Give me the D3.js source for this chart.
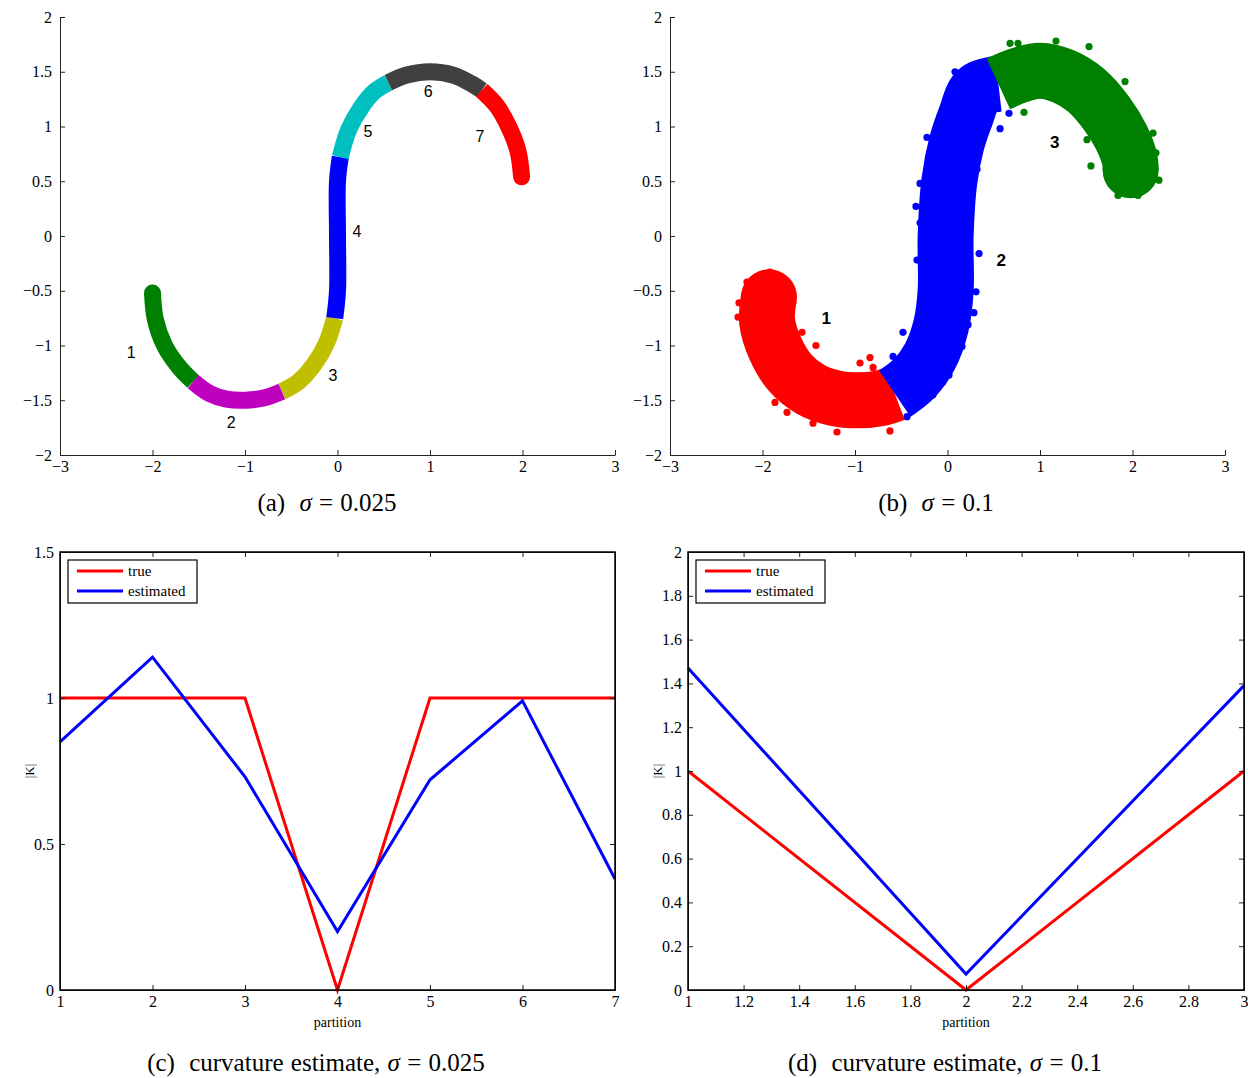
<!DOCTYPE html>
<html>
<head>
<meta charset="utf-8">
<script src="https://cdn.jsdelivr.net/npm/d3@7"></script>
<style>
  body { margin: 0; background: #fff; }
  .tick text { font-family: "Liberation Serif", serif; font-size: 16px; fill: #000; }
  .tick line, .domain { stroke: #222; }
  .caption { font-family: "Liberation Serif", serif; font-size: 25px; word-spacing: 1px; fill: #000; }
  .seglabel { font-family: "Liberation Sans", Arial, sans-serif; font-size: 16px; fill: #000; }
  .leg { font-family: "Liberation Serif", serif; font-size: 15px; fill: #000; }
</style>
</head>
<body>
<script>
// ---- datos del panel (a), sigma = 0.025: linea central de cada segmento ----
const segA1 = [[-2.0,-0.52],[-1.97,-0.76],[-1.87,-1.0],[-1.71,-1.2],[-1.56,-1.33]];
const segA2 = [[-1.56,-1.33],[-1.38,-1.44],[-1.2,-1.49],[-1.0,-1.5],[-0.8,-1.48],[-0.6,-1.42]];
const segA3 = [[-0.6,-1.42],[-0.42,-1.33],[-0.25,-1.17],[-0.12,-0.98],[-0.03,-0.75]];
const segA4 = [[-0.03,-0.75],[0.0,-0.5],[0.0,0.0],[0.0,0.5],[0.03,0.72]];
const segA5 = [[0.03,0.72],[0.12,0.97],[0.26,1.18],[0.4,1.32],[0.55,1.4]];
const segA6 = [[0.55,1.4],[0.75,1.47],[1.0,1.5],[1.25,1.47],[1.45,1.39],[1.56,1.33]];
const segA7 = [[1.56,1.33],[1.72,1.19],[1.85,1.0],[1.95,0.78],[1.99,0.54]];
const segmentsA = [segA1, segA2, segA3, segA4, segA5, segA6, segA7];
const colorsA = ["#008000", "#bf00bf", "#bfbf00", "#0000ff", "#00bfbf", "#404040", "#ff0000"];
const labelsA = ["1", "2", "3", "4", "5", "6", "7"];
const labelPosA = [[-2.23,-1.06],[-1.15,-1.7],[-0.05,-1.27],[0.21,0.04],[0.33,0.95],[0.98,1.32],[1.54,0.91]];

// ---- datos del panel (b), sigma = 0.1 ----
const segB1 = [[-1.93,-0.56],[-1.95,-0.78],[-1.86,-1.03],[-1.7,-1.25],[-1.48,-1.4],[-1.22,-1.48],[-0.95,-1.5],[-0.72,-1.48],[-0.57,-1.44]];
const segB2 = [[-0.57,-1.44],[-0.36,-1.3],[-0.19,-1.1],[-0.07,-0.82],[-0.02,-0.5],[-0.02,0.0],[0.02,0.5],[0.1,0.85],[0.2,1.1],[0.32,1.33],[0.55,1.39]];
const segB3 = [[0.55,1.39],[0.78,1.47],[1.0,1.51],[1.25,1.46],[1.5,1.33],[1.72,1.12],[1.88,0.9],[1.97,0.7],[1.98,0.6]];
const segmentsB = [segB1, segB2, segB3];
const colorsB = ["#ff0000", "#0000ff", "#008000"];
// puntos sueltos (fuera de la nube principal)
const outRedB = [[-2.265,-0.74],[-2.254,-0.61],[-2.168,-0.42],[-1.919,-0.33],[-1.573,-0.88],[-1.422,-1.0],
  [-0.838,-1.11],[-0.946,-1.16],[-0.805,-1.2],[-1.454,-1.71],[-1.195,-1.79],[-0.622,-1.78],[-1.735,-1.61],
  [-1.865,-1.52],[-2.059,-1.16]];
const outBlueB = [[-0.33,-0.22],[-0.481,-0.88],[-0.589,-1.1],[-0.438,-1.65],[-0.222,0.9],[-0.297,0.48],
  [-0.341,0.27],[-0.297,0.12],[0.341,-0.16],[0.308,-0.51],[0.286,-0.7],[0.222,-0.81],[0.157,-1.01],
  [0.081,-1.11],[0.016,-1.27],[-0.049,-1.33],[-0.157,-1.45],[0.665,1.12],[0.568,0.98],[0.351,0.86],
  [0.319,0.61],[0.081,1.5],[0.362,1.58]];
const outGreenB = [[0.676,1.76],[0.762,1.76],[1.173,1.78],[1.53,1.73],[1.919,1.41],[2.222,0.94],[2.254,0.76],
  [2.286,0.51],[2.232,0.58],[1.551,0.64],[1.508,0.88],[0.827,1.13],[1.843,0.37],[2.059,0.37]];
const labelsB = ["1", "2", "3"];
const labelPosB = [[-1.31,-0.75],[0.58,-0.22],[1.16,0.85]];

// ---- curvatura, paneles (c) y (d) ----
const partitionC = [1, 2, 3, 4, 5, 6, 7];
const trueC = [1, 1, 1, 0, 1, 1, 1];
const estC = [0.85, 1.14, 0.73, 0.2, 0.72, 0.99, 0.38];
const partitionD = [1, 2, 3];
const trueD = [1, 0, 1];
const estD = [1.47, 0.073, 1.39];

// marcas de los ejes
const ticksS = [-3, -2, -1, 0, 1, 2, 3];
const ticksSY = [-2, -1.5, -1, -0.5, 0, 0.5, 1, 1.5, 2];
const ticksCY = [0, 0.5, 1, 1.5];
const ticksDX = [1, 1.2, 1.4, 1.6, 1.8, 2, 2.2, 2.4, 2.6, 2.8, 3];
const ticksDY = [0, 0.2, 0.4, 0.6, 0.8, 1, 1.2, 1.4, 1.6, 1.8, 2];

const svg = d3.select("body").append("svg")
  .attr("width", 1248).attr("height", 1078);

const fmt = d3.format("");

// dibuja un panel de dispersion (nube en forma de S)
function scatterPanel(x, y, segs, colors, bandW, outliers, dotR, labels, labelPos, bold) {
  const g = svg.append("g");
  const line = d3.line().x(d => x(d[0])).y(d => y(d[1])).curve(d3.curveCatmullRom);

  // puntos sueltos detras de las bandas
  outliers.forEach((pts, i) => {
    g.selectAll(null).data(pts).enter().append("circle")
      .attr("cx", d => x(d[0])).attr("cy", d => y(d[1]))
      .attr("r", dotR).attr("fill", colors[i]);
  });

  g.selectAll(".band").data(segs).enter().append("path")
    .attr("class", "band")
    .attr("d", line)
    .attr("fill", "none")
    .attr("stroke", (d, i) => colors[i])
    .attr("stroke-width", bandW)
    .attr("stroke-linejoin", "round")
    .attr("stroke-linecap", "butt");

  // extremos redondeados de la curva
  const ends = [
    { p: segs[0][0], c: colors[0] },
    { p: segs[segs.length - 1][segs[segs.length - 1].length - 1], c: colors[colors.length - 1] }
  ];
  g.selectAll(".endcap").data(ends).enter().append("circle")
    .attr("cx", d => x(d.p[0])).attr("cy", d => y(d.p[1]))
    .attr("r", bandW / 2).attr("fill", d => d.c);

  g.selectAll(".seglabel").data(labels).enter().append("text")
    .attr("class", "seglabel")
    .attr("x", (d, i) => x(labelPos[i][0]))
    .attr("y", (d, i) => y(labelPos[i][1]))
    .attr("text-anchor", "middle")
    .attr("dominant-baseline", "central")
    .style("font-weight", bold ? "bold" : "normal")
    .style("font-size", bold ? "17px" : "16px")
    .text(d => d);

  // ejes izquierdo e inferior (solo dos lados, como en MATLAB)
  svg.append("g").attr("transform", `translate(${x.range()[0]},0)`)
    .call(d3.axisLeft(y).tickValues(ticksSY).tickFormat(fmt).tickSizeInner(-5).tickSizeOuter(0).tickPadding(8));
  svg.append("g").attr("transform", `translate(0,${y.range()[0]})`)
    .call(d3.axisBottom(x).tickValues(ticksS).tickFormat(fmt).tickSizeInner(-5).tickSizeOuter(0).tickPadding(6));
}

// dibuja un panel de curvatura con caja completa
function curvePanel(x, y, xs, trueV, estV, xTicks, yTicks) {
  const [x0, x1] = x.range();
  const [y0, y1] = y.range();
  const line = d3.line().x((d, i) => x(xs[i])).y(d => y(d));

  svg.append("path").datum(trueV)
    .attr("d", line).attr("fill", "none").attr("stroke", "#ff0000").attr("stroke-width", 3);
  svg.append("path").datum(estV)
    .attr("d", line).attr("fill", "none").attr("stroke", "#0000ff").attr("stroke-width", 3);

  svg.append("g").attr("transform", `translate(${x0},0)`)
    .call(d3.axisLeft(y).tickValues(yTicks).tickFormat(fmt).tickSizeInner(-5).tickSizeOuter(0).tickPadding(6));
  svg.append("g").attr("transform", `translate(${x1},0)`)
    .call(d3.axisRight(y).tickValues(yTicks).tickFormat("").tickSizeInner(-5).tickSizeOuter(0));
  svg.append("g").attr("transform", `translate(0,${y0})`)
    .call(d3.axisBottom(x).tickValues(xTicks).tickFormat(fmt).tickSizeInner(-5).tickSizeOuter(0).tickPadding(6));
  svg.append("g").attr("transform", `translate(0,${y1})`)
    .call(d3.axisTop(x).tickValues(xTicks).tickFormat("").tickSizeInner(-5).tickSizeOuter(0));
  svg.append("rect").attr("x", x0).attr("y", y1).attr("width", x1 - x0).attr("height", y0 - y1)
    .attr("fill", "none").attr("stroke", "#000").attr("stroke-width", 1.5);

  // titulos de ejes
  svg.append("text").attr("class", "leg").attr("x", (x0 + x1) / 2).attr("y", y0 + 37)
    .attr("text-anchor", "middle").style("font-size", "14px").text("partition");
  svg.append("text").attr("class", "leg")
    .attr("transform", `translate(${x0 - 26},${(y0 + y1) / 2}) rotate(-90)`)
    .attr("text-anchor", "middle").style("font-size", "13px").text("|K|");

  // leyenda
  const lg = svg.append("g").attr("transform", `translate(${x0 + 8},${y1 + 8})`);
  lg.append("rect").attr("width", 129).attr("height", 43)
    .attr("fill", "#fff").attr("stroke", "#000").attr("stroke-width", 1.2);
  const items = [["true", "#ff0000"], ["estimated", "#0000ff"]];
  items.forEach((it, i) => {
    lg.append("line").attr("x1", 9).attr("x2", 55).attr("y1", 11 + i * 20).attr("y2", 11 + i * 20)
      .attr("stroke", it[1]).attr("stroke-width", 3);
    lg.append("text").attr("class", "leg").attr("x", 60).attr("y", 16 + i * 20).text(it[0]);
  });
}

// pie de cada subfigura
function caption(cx, cy, label, pre, val) {
  const t = svg.append("text").attr("class", "caption").attr("x", cx).attr("y", cy)
    .attr("text-anchor", "middle");
  t.append("tspan").text(label);
  t.append("tspan").attr("dx", 7).text(" " + pre);
  t.append("tspan").style("font-style", "italic").text("σ");
  t.append("tspan").text(" = " + val);
}

// escalas
const xA = d3.scaleLinear().domain([-3, 3]).range([60, 615]);
const yA = d3.scaleLinear().domain([-2, 2]).range([455, 17]);
const xB = d3.scaleLinear().domain([-3, 3]).range([670, 1225]);
const yB = d3.scaleLinear().domain([-2, 2]).range([455, 17]);
const xC = d3.scaleLinear().domain([1, 7]).range([60, 615]);
const yC = d3.scaleLinear().domain([0, 1.5]).range([990, 552]);
const xD = d3.scaleLinear().domain([1, 3]).range([688, 1244]);
const yD = d3.scaleLinear().domain([0, 2]).range([990, 552]);

scatterPanel(xA, yA, segmentsA, colorsA, 17, [], 3, labelsA, labelPosA, false);
scatterPanel(xB, yB, segmentsB, colorsB, 56, [outRedB, outBlueB, outGreenB], 3.6, labelsB, labelPosB, true);
curvePanel(xC, yC, partitionC, trueC, estC, partitionC, ticksCY);
curvePanel(xD, yD, partitionD, trueD, estD, ticksDX, ticksDY);

caption(327, 511, "(a)", "", "0.025");
caption(936, 511, "(b)", "", "0.1");
caption(316, 1071, "(c)", "curvature estimate, ", "0.025");
caption(945, 1071, "(d)", "curvature estimate, ", "0.1");
</script>
</body>
</html>
